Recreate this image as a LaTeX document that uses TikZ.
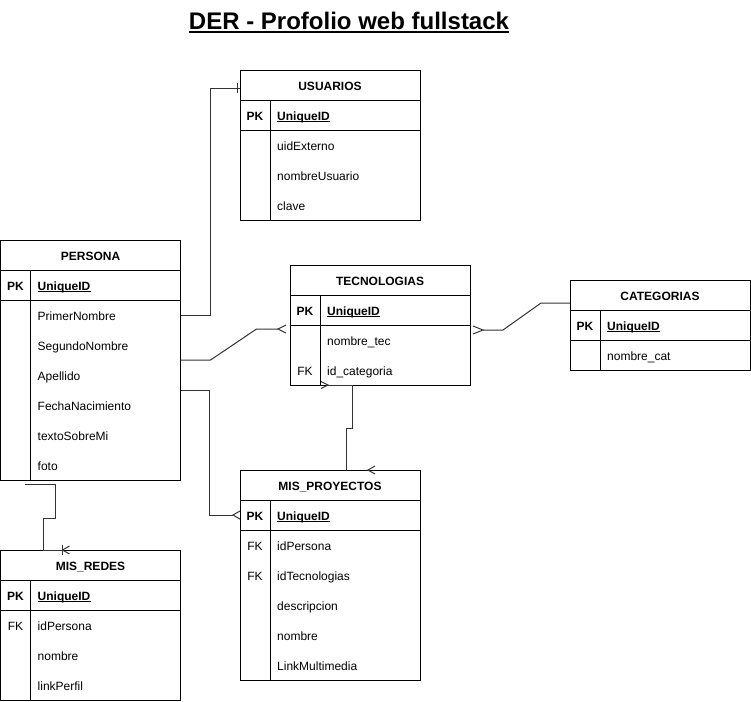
\documentclass[tikz,border=0pt]{standalone}
\usepackage{fontspec}
\setmainfont{Liberation Sans}
\usetikzlibrary{calc}
\tikzset{
  tbl/.style={draw, line width=1pt, anchor=north west, minimum width=180pt, inner sep=0pt, outer sep=0pt},
  tline/.style={line width=1pt},
  conn/.style={line width=1pt, draw=black!80},
  hdr/.style={anchor=base, inner sep=0pt, font=\bfseries\fontsize{12}{14}\selectfont},
  pkey/.style={anchor=base, inner sep=0pt, font=\bfseries\fontsize{12}{14}\selectfont},
  fkey/.style={anchor=base, inner sep=0pt, font=\fontsize{12}{14}\selectfont},
  fld/.style={anchor=base west, inner sep=0pt, font=\fontsize{12}{14}\selectfont},
  pkfld/.style={anchor=base west, inner sep=0pt, font=\bfseries\fontsize{12}{14}\selectfont},
  uline/.style={line width=0.9pt},
  ttl/.style={anchor=base, inner sep=0pt, font=\bfseries\fontsize{24}{28}\selectfont},
}
% name, x, y, number of field rows, title
\newcommand{\ertable}[5]{%
  \pgfmathsetmacro{\ertabh}{60+30*#4}%
  \node[tbl, minimum height=\ertabh pt] (#1) at (#2,#3) {};
  \draw[tline] ($(#1.north west)+(0,30)$) -- ($(#1.north east)+(0,30)$);
  \draw[tline] ($(#1.north west)+(0,60)$) -- ($(#1.north east)+(0,60)$);
  \draw[tline] ($(#1.north west)+(30,30)$) -- ($(#1.south west)+(30,0)$);
  \node[hdr] (#1-h) at ($(#1.north)+(0,20)$) {#5};
  \node[pkey] (#1-pk) at ($(#1.north west)+(15,50)$) {PK};
  \node[pkfld] (#1-id) at ($(#1.north west)+(37,50)$) {UniqueID};
  \draw[uline] ([yshift=-1.6pt]#1-id.base west) -- ([yshift=-1.6pt]#1-id.base east);
}
% table, row, key, text
\newcommand{\erfield}[4]{%
  \node[fkey] (#1-k#2) at ($(#1.north west)+(15,{80+30*#2})$) {#3};
  \node[fld] (#1-f#2) at ($(#1.north west)+(37,{80+30*#2})$) {#4};
}
\begin{document}
\begin{tikzpicture}[x=1pt,y=-1pt]
\fill[white] (0,0) rectangle (751,701);
\useasboundingbox (0,0) rectangle (751,701);

% title
\node[ttl] (title) at (349,30) {DER - Profolio web fullstack};
\draw[line width=2pt] ([yshift=-2.5pt]title.base west) -- ([yshift=-2.5pt]title.base east);

% tables
\ertable{usu}{240}{70}{3}{USUARIOS}
\erfield{usu}{0}{}{uidExterno}
\erfield{usu}{1}{}{nombreUsuario}
\erfield{usu}{2}{}{clave}

\ertable{per}{0.5}{240}{6}{PERSONA}
\erfield{per}{0}{}{PrimerNombre}
\erfield{per}{1}{}{SegundoNombre}
\erfield{per}{2}{}{Apellido}
\erfield{per}{3}{}{FechaNacimiento}
\erfield{per}{4}{}{textoSobreMi}
\erfield{per}{5}{}{foto}

\ertable{tec}{290}{265}{2}{TECNOLOGIAS}
\erfield{tec}{0}{}{nombre\_tec}
\erfield{tec}{1}{FK}{id\_categoria}

\ertable{cat}{570}{280}{1}{CATEGORIAS}
\erfield{cat}{0}{}{nombre\_cat}

\ertable{pro}{240}{470}{5}{MIS\_PROYECTOS}
\erfield{pro}{0}{FK}{idPersona}
\erfield{pro}{1}{FK}{idTecnologias}
\erfield{pro}{2}{}{descripcion}
\erfield{pro}{3}{}{nombre}
\erfield{pro}{4}{}{LinkMultimedia}

\ertable{red}{0.5}{550}{3}{MIS\_REDES}
\erfield{red}{0}{FK}{idPersona}
\erfield{red}{1}{}{nombre}
\erfield{red}{2}{}{linkPerfil}

% PERSONA -> USUARIOS
\draw[conn] ($(per.north east)+(0,75)$) -- ++(30,0) |- ($(usu.north west)+(0,18)$);
\draw[conn] ($(usu.north west)+(-3,13)$) -- ++(0,10);

% PERSONA -> TECNOLOGIAS
\draw[conn] ($(per.north east)+(0,120)$) -- ++(30,0) -- ++(46,-31) -- ($(tec.north west)+(-12,64)$);
\draw[conn] ($(tec.north west)+(-4,60)$) -- ($(tec.north west)+(-12,64)$) -- ($(tec.north west)+(-4,68)$);

% TECNOLOGIAS -> CATEGORIAS
\draw[conn] ($(tec.north east)+(13,65)$) -- ++(20,0) -- ($(cat.north west)+(-29,23)$) -- ($(cat.north west)+(0,23)$);
\draw[conn] ($(tec.north east)+(3,61)$) -- ($(tec.north east)+(13,65)$) -- ($(tec.north east)+(3,69)$);

% TECNOLOGIAS -> MIS_PROYECTOS
\draw[conn] ($(tec.south west)+(38,0)$) -- ++(24,0) -- ++(0,43) -- ++(-6,0) -- ($(pro.north west)+(106,0)$);
\draw[conn] ($(tec.south west)+(31,-3.5)$) -- ($(tec.south west)+(38,0)$) -- ($(tec.south west)+(31,3.5)$);
\draw[conn] ($(pro.north west)+(135,-4)$) -- ($(pro.north west)+(128,0)$) -- ($(pro.north west)+(135,4)$);

% PERSONA -> MIS_PROYECTOS
\draw[conn] ($(per.north east)+(0,150)$) -- ++(29,0) |- ($(pro.north west)+(-7,45)$);
\draw[conn] ($(pro.north west)+(0,41)$) -- ($(pro.north west)+(-7,45)$) -- ($(pro.north west)+(0,49)$);

% PERSONA -> MIS_REDES
\draw[conn] ($(per.south west)+(24.5,4)$) -- ++(30,0) -- ++(0,34) -- ++(-12,0) -- ($(red.north west)+(42.5,0)$) -- ($(red.north west)+(62,0)$);
\draw[conn] ($(red.north west)+(62,-5)$) -- ($(red.north west)+(62,5)$);
\draw[conn] ($(red.north west)+(69,-4)$) -- ($(red.north west)+(62,0)$) -- ($(red.north west)+(69,4)$);
\end{tikzpicture}
\end{document}
